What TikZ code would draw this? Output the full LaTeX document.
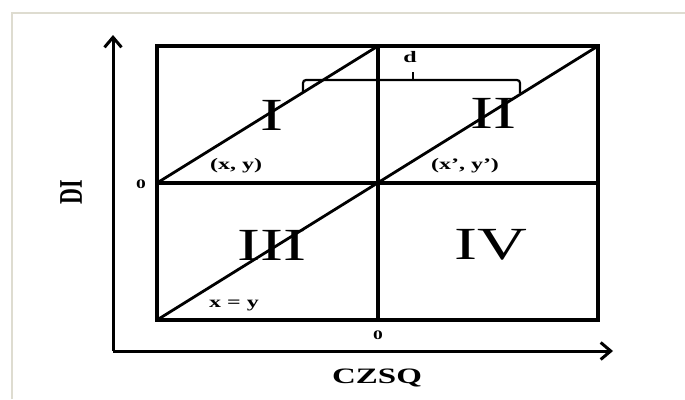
\documentclass[tikz,border=0pt]{standalone}
\usepackage{fontspec}
\setmainfont{Liberation Serif}
\newfontfamily\widefont[FakeStretch=1.5]{Liberation Serif}
\usetikzlibrary{arrows.meta}
\definecolor{framegray}{RGB}{222,220,208}

\begin{document}
\begin{tikzpicture}[x=1pt,y=-1pt,>={Straight Barb[length=10pt,width=17pt]},
  quad/.style={font=\widefont\fontsize{46}{46}\selectfont,inner sep=0pt},
  lbl/.style={font=\widefont\bfseries\fontsize{16}{16}\selectfont,inner sep=0pt},
  zero/.style={font=\widefont\bfseries\fontsize{13}{13}\selectfont,inner sep=0pt},
  axlbl/.style={font=\bfseries\fontsize{22}{22}\selectfont,inner sep=0pt}]
  \useasboundingbox (0,0) rectangle (685,399);
  \draw[framegray,line width=2pt] (12,399) -- (12,13) -- (685,13);
  % corners of the square
  \coordinate (sw) at (157,320);
  \coordinate (ne) at (598,46);
  \coordinate (w) at (157,183);
  \coordinate (e) at (598,183);
  \coordinate (n) at (378,46);
  \coordinate (s) at (378,320);
  \coordinate (o) at (113,351);
  \coordinate (ytip) at (113,35);
  \coordinate (xtip) at (613,351);
  \draw[line width=3.3pt] (sw) rectangle (ne);
  \draw[line width=3.3pt] (w) -- (e);
  \draw[line width=3.3pt] (n) -- (s);
  \draw[line width=2.8pt] (sw) -- (ne);
  \draw[line width=2.8pt] (w) -- (n);
  % axes
  \draw[->,line width=3pt] (o) -- (ytip);
  \draw[->,line width=3pt] (o) -- (xtip);
  % brace
  \draw[line width=2.2pt,rounded corners=3pt] (303,92) -- (303,80) -- (520,80) -- (520,93);
  \draw[line width=2.2pt] (413,80) -- (413,72);
  \node[quad] (qI) at (272,115) {I};
  \node[quad] (qII) at (493,113) {II};
  \node[quad] (qIII) at (272,245) {III};
  \node[quad] (qIV) at (491,245) {IV};
  \node[lbl] (pxy) at (236,166) {(x, y)};
  \node[lbl] (pxyb) at (465,166) {(x’, y’)};
  \node[lbl,anchor=base] (eqxy) at (234,307) {x = y};
  \node[lbl] (dist) at (410,57) {d};
  \node[zero] (zl) at (141,184) {0};
  \node[zero] (zb) at (378,335) {0};
  \node[axlbl,rotate=90] (ylbl) at (71,192) {\scalebox{1}[1.5]{DI}};
  \node[axlbl] (xlbl) at (377,378) {\widefont CZSQ};
\end{tikzpicture}
\end{document}
